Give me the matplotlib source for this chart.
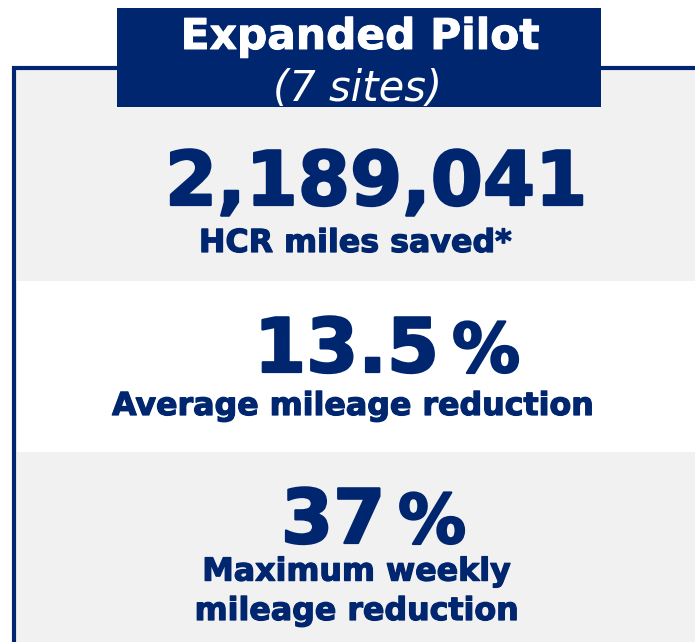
import matplotlib
matplotlib.use("Agg")
import matplotlib.pyplot as plt
from matplotlib.patches import Rectangle
import matplotlib.patheffects as pe

# ---- content ----
title = "Expanded Pilot"
subtitle = "(7 sites)"
values = ["2,189,041", "13.5", "37"]
units = ["", "%", "%"]
labels = ["HCR miles saved*", "Average mileage reduction", "Maximum weekly\nmileage reduction"]

NAVY = "#00266f"
GRAY = "#f1f1f1"

W, H = 695, 642
fig = plt.figure(figsize=(W / 100, H / 100), dpi=100)
ax = fig.add_axes([0, 0, 1, 1])
ax.set_xlim(0, W)
ax.set_ylim(H, 0)
ax.axis("off")

FONT = "DejaVu Sans"
thick_num = [pe.Stroke(linewidth=1.6, foreground=NAVY), pe.Normal()]
thick_lab = [pe.Stroke(linewidth=0.9, foreground=NAVY), pe.Normal()]
thick_title = [pe.Stroke(linewidth=0.7, foreground="white"), pe.Normal()]

# outer panel
ax.add_patch(Rectangle((14, 68), 700, 600, facecolor=GRAY, edgecolor=NAVY, linewidth=3, zorder=1))
# white middle band
ax.add_patch(Rectangle((17, 281), 690, 171, facecolor="white", edgecolor="none", zorder=2))
# header box
ax.add_patch(Rectangle((117, 8), 484, 99, facecolor=NAVY, edgecolor="none", zorder=3))

ax.text(360, 49, title, color="white", fontsize=30.5, fontweight="bold", family=FONT,
        ha="center", va="baseline", zorder=4, path_effects=thick_title)
ax.text(358, 101, subtitle, color="white", fontsize=30, fontstyle="italic", family=FONT,
        ha="center", va="baseline", zorder=4)

# metric rows: (value left x, value baseline, unit left x, label center x, label baseline)
rows = [
    (165, 205, None, 355, 252),
    (254, 372, 452, 352, 415),
    (281, 543, 398, 356, 620),
]
for (vx, vy, ux, lx, ly), val, unit, lab in zip(rows, values, units, labels):
    ax.text(vx, vy, val, color=NAVY, fontsize=54, fontweight="bold", family=FONT,
            ha="left", va="baseline", zorder=4, path_effects=thick_num)
    if unit:
        ax.text(ux, vy, unit, color=NAVY, fontsize=49, fontweight="bold", family=FONT,
                ha="left", va="baseline", zorder=4, path_effects=thick_num)
    ax.text(lx, ly, lab, color=NAVY, fontsize=22.8, fontweight="bold", family=FONT,
            ha="center", va="baseline", linespacing=1.35, zorder=4,
            multialignment="center", path_effects=thick_lab)

fig.savefig("out.png", dpi=100)
